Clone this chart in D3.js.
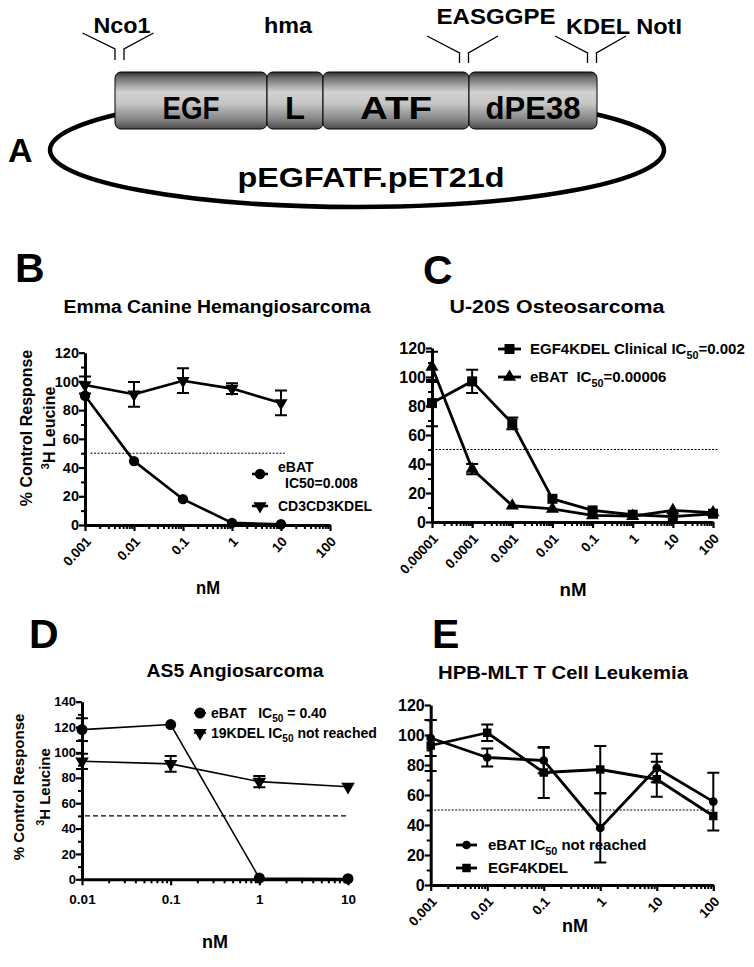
<!DOCTYPE html>
<html><head><meta charset="utf-8">
<script src="https://cdn.jsdelivr.net/npm/d3@7"></script>
<style>
body{margin:0;background:#fff}
text{font-family:"Liberation Sans",Arial,sans-serif;font-weight:bold;fill:#000;white-space:pre}
</style>
</head><body><svg id="fig" width="754" height="967"></svg>
<script>
// ---------- Panel A data ----------
const segLabels = ["EGF", "L", "ATF", "dPE38"];
const segLengths = [152, 56, 146, 128];
const siteLabels = ["Nco1", "EASGGPE", "KDEL NotI"];
const sitePos = [4.5, 349, 477];
const regionLabel = "hma";
const plasmidLabel = "pEGFATF.pET21d";

// ---------- Panel B data ----------
const bTitle = "Emma Canine Hemangiosarcoma";
const bDoses = [0.001, 0.01, 0.1, 1, 10];
const bEbat = [90, 44.5, 18, 1.5, 0.5];
const bCD3 = [97.5, 91, 100.5, 95, 85];
const bCD3Err = [6, 8.6, 8.6, 3.7, 8.6];
const bXTickLabels = ["0.001", "0.01", "0.1", "1", "10", "100"];
const bYTicks = [0, 20, 40, 60, 80, 100, 120];
const bLegend = ["eBAT\nIC50=0.008", "CD3CD3KDEL"];

// ---------- Panel C data ----------
const cTitle = "U-20S Osteosarcoma";
const cDoses = [0.00001, 0.0001, 0.001, 0.01, 0.1, 1, 10, 100];
const cEgf = [82, 97, 68, 16, 8, 5, 3.7, 5.7];
const cEgfErr = [16, 8, 4, 0, 0, 0, 0, 0];
const cEbat = [107, 36.5, 11.2, 9, 4.5, 4, 8, 6.5];
const cEbatErr = [10.5, 3.5, 0, 0, 0, 0, 0, 0];
const cXTickLabels = ["0.00001", "0.0001", "0.001", "0.01", "0.1", "1", "10", "100"];
const cYTicks = [0, 20, 40, 60, 80, 100, 120];
const cLegend = ["EGF4KDEL Clinical IC_{50}=0.002", "eBAT  IC_{50}=0.00006"];

// ---------- Panel D data ----------
const dTitle = "AS5 Angiosarcoma";
const dDoses = [0.01, 0.1, 1, 10];
const dEbat = [118, 122, 1, 0.5];
const dEbatErr = [9, 0, 0, 0];
const d19 = [93, 91, 77, 73];
const d19Err = [6, 6.2, 4.4, 0];
const dXTickLabels = ["0.01", "0.1", "1", "10"];
const dYTicks = [0, 20, 40, 60, 80, 100, 120, 140];
const dLegend = ["eBAT   IC_{50} = 0.40", "19KDEL IC_{50} not reached"];

// ---------- Panel E data ----------
const eTitle = "HPB-MLT T Cell Leukemia";
const eDoses = [0.001, 0.01, 0.1, 1, 10, 100];
const eEbat = [98, 85, 83, 38, 78, 55.6];
const eEbatErr = [12, 6, 8.5, 23, 9.5, 19.3];
const eEgf = [93, 101.5, 75, 77, 70.5, 46];
const eEgfErr = [17, 5.5, 17, 15.7, 11.6, 0];
const eXTickLabels = ["0.001", "0.01", "0.1", "1", "10", "100"];
const eYTicks = [0, 20, 40, 60, 80, 100, 120];
const eLegend = ["eBAT IC_{50} not reached", "EGF4KDEL"];

const yLabel1 = "% Control Response";
const yLabel2 = "^{3}H Leucine";
const xLabel = "nM";

const svg = d3.select("#fig");
svg.append("rect").attr("width", 754).attr("height", 967).attr("fill", "#fff");

function rich(sel, str, fs) {
  const parts = str.split(/(_\{[^}]*\}|\^\{[^}]*\})/).filter(s => s.length);
  let shift = 0;
  parts.forEach(p => {
    if (p.startsWith("_{")) {
      sel.append("tspan").attr("dy", fs * 0.3 - shift).attr("font-size", fs * 0.72).text(p.slice(2, -1));
      shift = fs * 0.3;
    } else if (p.startsWith("^{")) {
      sel.append("tspan").attr("dy", -fs * 0.4 - shift).attr("font-size", fs * 0.72).text(p.slice(2, -1));
      shift = -fs * 0.4;
    } else {
      sel.append("tspan").attr("dy", -shift).text(p);
      shift = 0;
    }
  });
}

// ---------- Panel A ----------
(function () {
  const L = { left: 115, right: 597, top: 72, h: 57 };
  const ax = d3.scaleLinear().domain([0, d3.sum(segLengths)]).range([L.left, L.right]);
  const defs = svg.append("defs");
  const gr = defs.append("linearGradient").attr("id", "cyl").attr("x1", 0).attr("y1", 0).attr("x2", 0).attr("y2", 1);
  [[0, "#2c2c2c"], [0.1, "#6e6e6e"], [0.35, "#d2d2d2"], [0.55, "#c6c6c6"], [0.85, "#808080"], [1, "#4a4a4a"]]
    .forEach(([o, c]) => gr.append("stop").attr("offset", o).attr("stop-color", c));
  const gA = svg.append("g");
  gA.append("ellipse").attr("cx", 357).attr("cy", 150).attr("rx", 307).attr("ry", 57)
    .attr("fill", "none").attr("stroke", "#000").attr("stroke-width", 4.5);
  let acc = 0;
  const starts = segLengths.map(l => { const s = acc; acc += l; return s; });
  const narrow = '"Liberation Sans Narrow","Arial Narrow","Liberation Sans",Arial,sans-serif';
  const boxTextW = [57, 20, 72, 95];
  segLabels.forEach((lab, i) => {
    const x0 = ax(starts[i]), x1 = ax(starts[i] + segLengths[i]);
    gA.append("rect").attr("x", x0).attr("y", L.top).attr("width", x1 - x0).attr("height", L.h)
      .attr("rx", 6).attr("fill", "url(#cyl)").attr("stroke", "#000").attr("stroke-width", 1);
    gA.append("text").attr("x", (x0 + x1) / 2).attr("y", 118.5).attr("text-anchor", "middle")
      .style("font-family", narrow).attr("font-size", 31)
      .attr("textLength", boxTextW[i]).attr("lengthAdjust", "spacingAndGlyphs").text(lab);
  });
  const labX = [122, 496, 624], labY = [33, 24, 34], labW = [57, 119, 116];
  sitePos.forEach((p, i) => {
    const c = ax(p);
    const topV = i === 0 ? 49 : 53, botV = i === 0 ? 60 : 63, endY = i === 0 ? 33 : 36;
    gA.append("path").attr("d",
      `M${c - 4.5},${botV}V${topV}L${c - 37},${endY}M${c + 4.5},${botV}V${topV}L${c + 34},${endY}`)
      .attr("fill", "none").attr("stroke", "#000").attr("stroke-width", 1.3);
    gA.append("text").attr("x", labX[i]).attr("y", labY[i]).attr("text-anchor", "middle")
      .style("font-family", narrow).attr("font-size", 21.5)
      .attr("textLength", labW[i]).attr("lengthAdjust", "spacingAndGlyphs").text(siteLabels[i]);
  });
  gA.append("text").attr("x", 288).attr("y", 33).attr("text-anchor", "middle")
    .style("font-family", narrow).attr("font-size", 21.5)
    .attr("textLength", 48).attr("lengthAdjust", "spacingAndGlyphs").text(regionLabel);
  gA.append("text").attr("x", 371).attr("y", 187).attr("text-anchor", "middle")
    .style("font-family", narrow).attr("font-size", 28)
    .attr("textLength", 267).attr("lengthAdjust", "spacingAndGlyphs").text(plasmidLabel);
  gA.append("text").attr("x", 8).attr("y", 162).attr("font-size", 34).text("A");
})();

// ---------- generic dose-response panel ----------
function sym(type, size) {
  const t = { circle: d3.symbolCircle, square: d3.symbolSquare, triUp: d3.symbolTriangle, triDown: d3.symbolTriangle }[type];
  return d3.symbol().type(t).size(size)();
}

function drawPanel(p) {
  const x = d3.scaleLog().domain(p.xDomain).range([p.left, p.right]);
  const y = d3.scaleLinear().domain([0, p.yMax]).range([p.bottom, p.top]);
  const g = svg.append("g");

  g.append("text").attr("x", p.letterX).attr("y", p.letterY).attr("font-size", 41).text(p.letter);
  g.append("text").attr("x", p.titleX).attr("y", p.titleY).attr("text-anchor", "middle").attr("font-size", 18)
    .attr("textLength", p.titleW).attr("lengthAdjust", "spacingAndGlyphs").text(p.title);

  g.append("line").attr("x1", x(p.refX[0])).attr("x2", x(p.refX[1]))
    .attr("y1", y(50)).attr("y2", y(50))
    .attr("stroke", "#000").attr("stroke-width", p.refW).attr("stroke-dasharray", p.refDash);

  const minors = [];
  const lo = Math.round(Math.log10(p.xDomain[0])), hi = Math.round(Math.log10(p.xDomain[1]));
  for (let e = lo; e < hi; e++) for (let k = 2; k <= 9; k++) minors.push(k * Math.pow(10, e));
  const xMaj = p.xLabels.map(Number);

  const xm = g.append("g").attr("transform", `translate(0,${p.bottom})`)
    .call(d3.axisBottom(x).tickValues(minors).tickSize(4).tickFormat(""));
  xm.select(".domain").remove();
  xm.selectAll("line").attr("stroke-width", 2);

  const yMinors = p.yTicks.slice(0, -1).map((v, i) => (v + p.yTicks[i + 1]) / 2);
  const ym = g.append("g").attr("transform", `translate(${p.left},0)`)
    .call(d3.axisLeft(y).tickValues(yMinors).tickSize(4).tickFormat(""));
  ym.select(".domain").remove();
  ym.selectAll("line").attr("stroke-width", 2);

  const xa = g.append("g").attr("transform", `translate(0,${p.bottom})`)
    .call(d3.axisBottom(x).tickValues(xMaj).tickSize(6).tickSizeOuter(0).tickPadding(p.xPad)
      .tickFormat((d, i) => p.xLabels[i]));
  xa.select(".domain").attr("stroke-width", 3);
  xa.selectAll(".tick line").attr("stroke-width", 2.2);
  xa.selectAll("text").attr("font-size", 13.5);
  if (p.rotate) {
    xa.selectAll("text").attr("text-anchor", "end").attr("x", 0).attr("y", 0).attr("dy", "0.35em")
      .attr("transform", "translate(3,14) rotate(-47)");
  }

  const ya = g.append("g").attr("transform", `translate(${p.left},0)`)
    .call(d3.axisLeft(y).tickValues(p.yTicks).tickSize(6).tickSizeOuter(0).tickPadding(0));
  ya.select(".domain").attr("stroke-width", 3);
  ya.selectAll(".tick line").attr("stroke-width", 2.2);
  ya.selectAll("text").attr("font-size", p.yFont);

  p.series.forEach(s => {
    const pts = p.doses.map((d, i) => ({ d, v: s.values[i], e: s.err ? s.err[i] : 0 }));
    pts.filter(q => q.e > 0).forEach(q => {
      const cx = x(q.d), ya0 = y(q.v - q.e), ya1 = y(q.v + q.e);
      g.append("path").attr("d", `M${cx},${ya0}V${ya1}M${cx - 6},${ya0}H${cx + 6}M${cx - 6},${ya1}H${cx + 6}`)
        .attr("fill", "none").attr("stroke", "#000").attr("stroke-width", 2);
    });
    g.append("path").datum(pts)
      .attr("d", d3.line().x(q => x(q.d)).y(q => y(q.v)))
      .attr("fill", "none").attr("stroke", "#000").attr("stroke-width", p.lineW).attr("stroke-linejoin", "round");
    g.selectAll(null).data(pts).join("path")
      .attr("d", sym(s.symbol, s.size))
      .attr("transform", q => `translate(${x(q.d)},${y(q.v)})${s.symbol === "triDown" ? " rotate(180)" : ""}`)
      .attr("fill", "#000");
  });

  p.series.forEach((s, i) => {
    const ly = p.legY[i];
    g.append("line").attr("x1", p.legX[0]).attr("x2", p.legX[1]).attr("y1", ly).attr("y2", ly)
      .attr("stroke", "#000").attr("stroke-width", p.lineW);
    g.append("path").attr("d", sym(s.symbol, s.size))
      .attr("transform", `translate(${(p.legX[0] + p.legX[1]) / 2},${ly})${s.symbol === "triDown" ? " rotate(180)" : ""}`);
    const lines = s.label.split("\n");
    lines.forEach((ln, j) => {
      const base = lines.length > 1 ? ly - 2 + j * 16 : ly + 5;
      const t = g.append("text").attr("x", p.legTextX + (j > 0 ? 7 : 0)).attr("y", base).attr("font-size", p.legFont);
      rich(t, ln, p.legFont);
    });
  });

  g.append("text").attr("x", p.nmX).attr("y", p.nmY).attr("text-anchor", "middle").attr("font-size", 18)
    .attr("textLength", p.nmW).attr("lengthAdjust", "spacingAndGlyphs").text(xLabel);
  if (p.yl) {
    const cy = p.yl.cy;
    g.append("text").attr("transform", `translate(${p.yl.x1},${cy}) rotate(-90)`).attr("text-anchor", "middle")
      .attr("font-size", p.yl.fs).text(yLabel1);
    const t2 = g.append("text").attr("transform", `translate(${p.yl.x2},${cy}) rotate(-90)`).attr("text-anchor", "middle")
      .attr("font-size", p.yl.fs);
    rich(t2, yLabel2, p.yl.fs);
  }
}

drawPanel({
  letter: "B", letterX: 15, letterY: 282, title: bTitle, titleX: 217, titleY: 313, titleW: 307,
  xDomain: [0.001, 100], left: 85, right: 330, yMax: 120, top: 352.7, bottom: 525,
  xLabels: bXTickLabels, yTicks: bYTicks, yFont: 14.5, rotate: true, xPad: 3,
  doses: bDoses, lineW: 2.6, refX: [0.0013, 12], refW: 1, refDash: "2,1.5",
  series: [
    { label: bLegend[0], values: bEbat, symbol: "circle", size: 85 },
    { label: bLegend[1], values: bCD3, err: bCD3Err, symbol: "triDown", size: 75 }
  ],
  legX: [252, 268], legY: [474, 506], legTextX: 278, legFont: 14,
  nmX: 208, nmY: 594, nmW: 24, yl: { x1: 32, x2: 55, cy: 428, fs: 16 }
});

drawPanel({
  letter: "C", letterX: 423, letterY: 284, title: cTitle, titleX: 557, titleY: 313, titleW: 215,
  xDomain: [0.00001, 100], left: 432, right: 713, yMax: 120, top: 348, bottom: 522,
  xLabels: cXTickLabels, yTicks: cYTicks, yFont: 16, rotate: true, xPad: 3,
  doses: cDoses, lineW: 2.8, refX: [0.00001, 135], refW: 1, refDash: "2,1.5",
  series: [
    { label: cLegend[0], values: cEgf, err: cEgfErr, symbol: "square", size: 100 },
    { label: cLegend[1], values: cEbat, err: cEbatErr, symbol: "triUp", size: 75 }
  ],
  legX: [498, 521], legY: [349, 377], legTextX: 530, legFont: 15,
  nmX: 573, nmY: 596, nmW: 27
});

drawPanel({
  letter: "D", letterX: 29, letterY: 648, title: dTitle, titleX: 235, titleY: 677, titleW: 177,
  xDomain: [0.01, 10], left: 82, right: 348, yMax: 140, top: 701.7, bottom: 879.3,
  xLabels: dXTickLabels, yTicks: dYTicks, yFont: 13, rotate: false, xPad: 9,
  doses: dDoses, lineW: 1.6, refX: [0.0108, 10], refW: 1.3, refDash: "5,3",
  series: [
    { label: dLegend[0], values: dEbat, err: dEbatErr, symbol: "circle", size: 95 },
    { label: dLegend[1], values: d19, err: d19Err, symbol: "triDown", size: 80 }
  ],
  legX: [194, 206], legY: [713, 733], legTextX: 211, legFont: 14,
  nmX: 215, nmY: 948, nmW: 26, yl: { x1: 24, x2: 50, cy: 787, fs: 15 }
});

drawPanel({
  letter: "E", letterX: 432, letterY: 648, title: eTitle, titleX: 563, titleY: 679, titleW: 250,
  xDomain: [0.001, 100], left: 430.7, right: 713.3, yMax: 120, top: 705, bottom: 885,
  xLabels: eXTickLabels, yTicks: eYTicks, yFont: 16, rotate: true, xPad: 3,
  doses: eDoses, lineW: 2.8, refX: [0.001, 100], refW: 1, refDash: "2,1.5",
  series: [
    { label: eLegend[0], values: eEbat, err: eEbatErr, symbol: "circle", size: 60 },
    { label: eLegend[1], values: eEgf, err: eEgfErr, symbol: "square", size: 72 }
  ],
  legX: [456, 477], legY: [845, 868], legTextX: 488, legFont: 15,
  nmX: 575, nmY: 932, nmW: 26
});
</script>
</body></html>
